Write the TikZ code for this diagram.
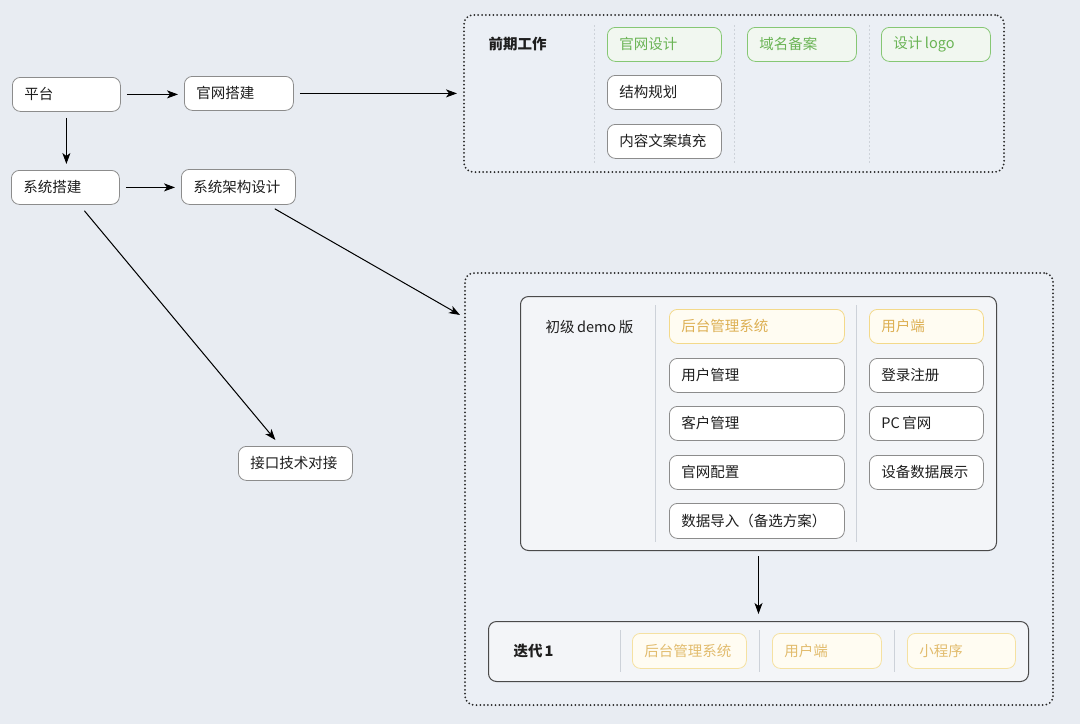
\documentclass[tikz,border=0pt]{standalone}
\usepackage{fontspec}
\setmainfont{Noto Sans CJK SC}
\usetikzlibrary{arrows.meta,calc}
\definecolor{bg}{HTML}{E8ECF2}
\definecolor{panel}{HTML}{EBEFF5}
\definecolor{inner}{HTML}{F3F5F8}
\definecolor{boxgray}{HTML}{8C8C8C}
\definecolor{gborder}{HTML}{86C774}
\definecolor{gtext}{HTML}{6AB455}
\definecolor{gfill}{HTML}{F1F7F0}
\definecolor{yborder}{HTML}{F3D98A}
\definecolor{ytext}{HTML}{DDB054}
\definecolor{yfill}{HTML}{FFFCF2}
\definecolor{sepc}{HTML}{CDD2D9}
\definecolor{darkb}{HTML}{4A4A4A}
\definecolor{txt}{HTML}{1E1E1E}
\tikzset{
  lbl/.style={font=\fontsize{14.5}{16}\selectfont, text=txt},
  box/.style={lbl, draw=boxgray, fill=white, rounded corners=8pt, line width=0.8pt,
    anchor=north west, inner xsep=12pt, inner ysep=0pt, align=left},
  gbox/.style={box, draw=gborder, fill=gfill, text=gtext},
  ybox/.style={box, draw=yborder, fill=yfill, text=ytext},
  dotbox/.style={draw=black!85, line width=2pt, line cap=round, dash pattern=on 0pt off 3.8pt,
    rounded corners=9pt, fill=panel, anchor=north west, inner sep=0pt},
  frame/.style={draw=darkb, line width=1pt, rounded corners=8pt, fill=inner, anchor=north west, inner sep=0pt},
  sepline/.style={draw=sepc, line width=0.8pt},
  arr/.style={-{Stealth[length=11pt,width=8pt,inset=3pt]}, line width=1pt, black},
  title/.style={lbl, anchor=west},
}
\begin{document}
\begin{tikzpicture}[x=1pt,y=-1pt]
\fill[bg] (0,0) rectangle (1080,724);
\useasboundingbox (0,0) rectangle (1080,724);

% left column
\node[box, minimum width=108pt, minimum height=34pt, text width=84pt] (pt) at (12,77) {平台};
\node[box, minimum width=109pt, minimum height=34pt, text width=85pt] (gw) at (184,76) {官网搭建};
\node[box, minimum width=108pt, minimum height=34pt, text width=84pt] (sys) at (11,170) {系统搭建};
\node[box, minimum width=114pt, minimum height=35pt, text width=90pt] (arch) at (181,169) {系统架构设计};
\node[box, minimum width=114pt, minimum height=34pt, text width=90pt] (api) at (238,446) {接口技术对接};

% pre-work panel
\node[dotbox, minimum width=540pt, minimum height=157pt] (pre) at (463,14) {};
\node[title, font=\fontsize{14.5}{16}\selectfont\bfseries] (pretitle) at (485,44) {前期工作};
\draw[sepline, dash pattern=on 1.5pt off 2.5pt] (594,25) -- (594,163);
\draw[sepline, dash pattern=on 1.5pt off 2.5pt] (734,25) -- (734,163);
\draw[sepline, dash pattern=on 1.5pt off 2.5pt] (869,25) -- (869,163);
\node[gbox, minimum width=114pt, minimum height=34pt, text width=90pt] (g1) at (607,27) {官网设计};
\node[gbox, minimum width=109pt, minimum height=34pt, text width=85pt] (g2) at (747,27) {域名备案};
\node[gbox, minimum width=109pt, minimum height=34pt, text width=85pt] (g3) at (881,27) {设计\hspace{2.5pt}logo};
\node[box, minimum width=114pt, minimum height=34pt, text width=90pt] (p1) at (607,75) {结构规划};
\node[box, minimum width=114pt, minimum height=34pt, text width=90pt] (p2) at (607,124) {内容文案填充};

% big panel
\node[dotbox, minimum width=588pt, minimum height=432pt] (big) at (464,272) {};
\node[frame, minimum width=476pt, minimum height=254pt] (demo) at (520,296) {};
\node[title] (demotitle) at (542,327) {初级\hspace{2.5pt}demo\hspace{2.5pt}版};
\draw[sepline] (655,305) -- (655,542);
\draw[sepline] (856,305) -- (856,542);
\node[ybox, minimum width=175pt, minimum height=34pt, text width=151pt] (y1) at (669,309) {后台管理系统};
\node[box, minimum width=175pt, minimum height=34pt, text width=151pt] (d1) at (669,358) {用户管理};
\node[box, minimum width=175pt, minimum height=34pt, text width=151pt] (d2) at (669,406) {客户管理};
\node[box, minimum width=175pt, minimum height=34pt, text width=151pt] (d3) at (669,455) {官网配置};
\node[box, minimum width=175pt, minimum height=35pt, text width=151pt] (d4) at (669,503) {数据导入（备选方案）};
\node[ybox, minimum width=114pt, minimum height=34pt, text width=90pt] (y2) at (869,309) {用户端};
\node[box, minimum width=114pt, minimum height=34pt, text width=90pt] (e1) at (869,358) {登录注册};
\node[box, minimum width=114pt, minimum height=34pt, text width=90pt] (e2) at (869,406) {PC\hspace{2.5pt}官网};
\node[box, minimum width=114pt, minimum height=34pt, text width=90pt] (e3) at (869,455) {设备数据展示};

\node[frame, minimum width=540pt, minimum height=60pt] (iter) at (488,621) {};
\node[title, font=\fontsize{14.5}{16}\selectfont\bfseries] (itertitle) at (510,651) {迭代\hspace{2pt}1};
\draw[sepline] (620,630) -- (620,672);
\draw[sepline] (759,630) -- (759,672);
\draw[sepline] (894,630) -- (894,672);
\node[ybox, draw=yborder!80, text=ytext!85, minimum width=114pt, minimum height=35pt, text width=90pt] (i1) at (632,633) {后台管理系统};
\node[ybox, draw=yborder!80, text=ytext!85, minimum width=109pt, minimum height=35pt, text width=85pt] (i2) at (772,633) {用户端};
\node[ybox, draw=yborder!80, text=ytext!85, minimum width=108pt, minimum height=35pt, text width=84pt] (i3) at (907,633) {小程序};

% connectors
\draw[arr] ([xshift=6pt]pt.east) -- ([xshift=-6pt]gw.west |- pt.east);
\draw[arr] ([yshift=-6pt]pt.south) -- ([yshift=6pt]pt.south |- sys.north);
\draw[arr] ([xshift=6pt]sys.east) -- ([xshift=-6pt]arch.west |- sys.east);
\draw[arr] ([xshift=6pt]gw.east) -- ([xshift=-6pt]pre.west |- gw.east);
\draw[arr] ([xshift=-21pt,yshift=-4pt]arch.south east) -- ([xshift=-4pt,yshift=-43pt]big.north west);
\draw[arr] ([xshift=19pt,yshift=-6pt]sys.south) -- ([xshift=-20pt,yshift=6pt]api.north);
\draw[arr] ([yshift=-5pt]demo.south) -- ([yshift=7pt]iter.north);
\end{tikzpicture}
\end{document}
